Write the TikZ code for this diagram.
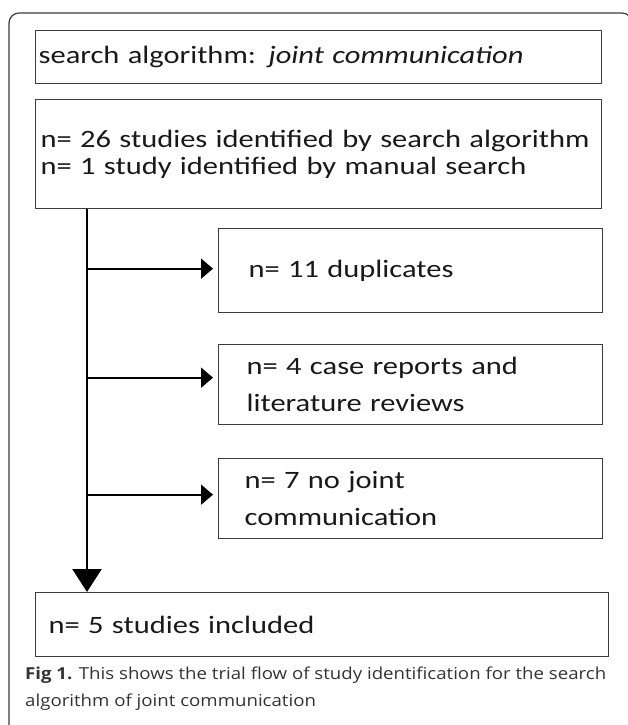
\documentclass[tikz,border=0pt]{standalone}
\usepackage{fontspec}
\setmainfont{Carlito}[FakeStretch=1.22]
\newfontfamily\capfont{Open Sans}[FakeStretch=1.13]
\usetikzlibrary{arrows.meta}
\definecolor{boxgray}{HTML}{3C3C3C}
\definecolor{capgray}{HTML}{333333}
\begin{document}
\begin{tikzpicture}[x=1pt, y=-1pt,
  flowbox/.style={draw=boxgray, line width=1.3pt, anchor=north west, align=left, inner ysep=0pt, text=black!90, font=\fontsize{25}{27}\selectfont},
  wide/.style={font=\fontsize{25}{36.5}\selectfont},
  branch/.style={line width=2pt, -{Triangle[width=20pt,length=12pt]}, shorten >=5pt},
  trunkline/.style={line width=2.2pt, -{Triangle[width=29pt,length=23pt]}}]
\useasboundingbox (0,0) rectangle (627,725);
% outer frame
\draw[boxgray, line width=1.2pt, rounded corners=10pt] (9,730) |- (632,13) -- (632,40);
% boxes
\node[flowbox, text width=560pt, inner xsep=3pt, minimum height=53pt] (search) at (35,30) {search algorithm: \textit{joint communication}};
\node[flowbox, text width=556pt, inner xsep=5pt, minimum height=109pt] (found) at (35,99) {n= 26 studies identified by search algorithm\\n= 1 study identified by manual search};
\node[flowbox, text width=324pt, inner xsep=30pt, minimum height=84pt] (dupl) at (218,228) {n= 11 duplicates};
\node[flowbox, wide, text width=328pt, inner xsep=28pt, minimum height=80pt] (cases) at (218,344) {n= 4 case reports and\\literature reviews};
\node[flowbox, wide, text width=332pt, inner xsep=26pt, minimum height=80pt] (nojoint) at (218,458) {n= 7 no joint\\communication};
\node[flowbox, text width=547pt, inner xsep=13pt, minimum height=64pt] (incl) at (35,592) {n= 5 studies included};
% connectors
\coordinate (trunk) at (87,0);
\coordinate (duplIn) at ([yshift=2pt]dupl.west);
\coordinate (casesIn) at ([yshift=7pt]cases.west);
\coordinate (nojointIn) at ([yshift=4pt]nojoint.west);
\draw[trunkline] (found.south -| trunk) -- (incl.north -| trunk);
\draw[branch] (duplIn -| trunk) -- (duplIn);
\draw[branch] (casesIn -| trunk) -- (casesIn);
\draw[branch] (nojointIn -| trunk) -- (nojointIn);
% caption
\node[anchor=north west, inner sep=0pt, align=left, text=capgray, font=\capfont\fontsize{16.5}{27}\selectfont] (caption) at (25,667) {\textbf{Fig 1.} This shows the trial flow of study identification for the search\\algorithm of joint communication};
\end{tikzpicture}
\end{document}
